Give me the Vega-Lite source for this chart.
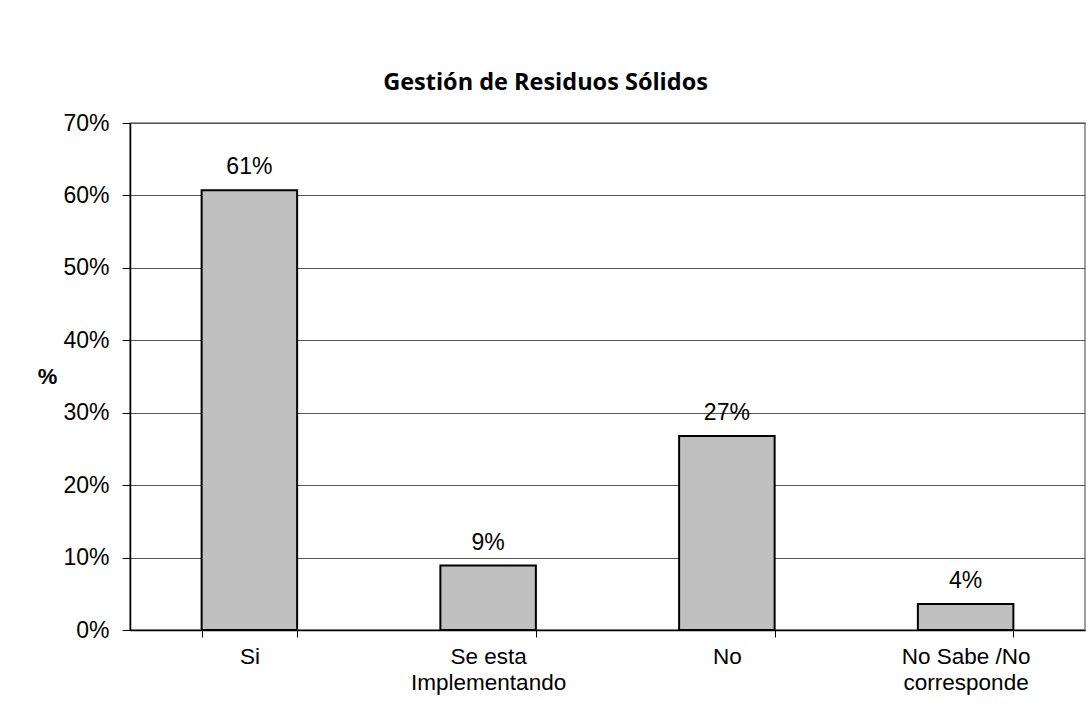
{
  "$schema": "https://vega.github.io/schema/vega-lite/v6.json",
  "autosize": {"type": "none"},
  "width": 955,
  "height": 507,
  "padding": {"left": 130, "top": 123, "right": 4, "bottom": 97},
  "background": "white",
  "title": {
    "text": "Gestión de Residuos Sólidos",
    "font": "Open Sans",
    "fontWeight": "bold",
    "fontSize": 23.5,
    "color": "black",
    "anchor": "middle",
    "frame": "group",
    "baseline": "alphabetic",
    "dx": -62,
    "offset": -1
  },
  "data": {
    "values": [
      {"categoria": "Si", "valor": 0.607},
      {"categoria": "Se esta|Implementando", "valor": 0.089},
      {"categoria": "No", "valor": 0.268},
      {"categoria": "No Sabe /No|corresponde", "valor": 0.036}
    ]
  },
  "encoding": {
    "x": {
      "field": "categoria",
      "type": "nominal",
      "sort": null,
      "scale": {"paddingInner": 0.6, "paddingOuter": 0.3},
      "axis": {
        "title": null,
        "labelAngle": 0,
        "labelExpr": "split(datum.label, '|')",
        "labelFont": "Liberation Sans",
        "labelFontSize": 22.5,
        "labelColor": "black",
        "labelLineHeight": 26,
        "labelPadding": 8,
        "tickBand": "extent",
        "tickSize": 7,
        "tickColor": "black",
        "domainColor": "black",
        "domainWidth": 1.5,
        "grid": false
      }
    },
    "y": {
      "field": "valor",
      "type": "quantitative",
      "scale": {"domain": [0, 0.7]},
      "axis": {
        "title": "%",
        "titleAngle": 0,
        "titleFont": "Liberation Sans",
        "titleFontSize": 22,
        "titleFontWeight": "bold",
        "titleColor": "black",
        "titleX": -83,
        "titleY": 253,
        "titleAlign": "center",
        "titleBaseline": "middle",
        "format": ".0%",
        "values": [0, 0.1, 0.2, 0.3, 0.4, 0.5, 0.6, 0.7],
        "labelFont": "Liberation Sans",
        "labelFontSize": 23,
        "labelColor": "black",
        "labelPadding": 13,
        "tickSize": 8,
        "tickColor": "black",
        "domainColor": "black",
        "domainWidth": 1.5,
        "grid": true,
        "gridColor": "#555555",
        "gridWidth": 1
      }
    }
  },
  "layer": [
    {
      "mark": {"type": "bar", "fill": "#c0c0c0", "stroke": "black", "strokeWidth": 2}
    },
    {
      "mark": {"type": "text", "baseline": "alphabetic", "dy": -16, "font": "Liberation Sans", "fontSize": 23, "color": "black"},
      "encoding": {
        "text": {"field": "valor", "type": "quantitative", "format": ".0%"}
      }
    }
  ],
  "config": {
    "view": {"stroke": "#808080", "strokeWidth": 1.5}
  }
}
